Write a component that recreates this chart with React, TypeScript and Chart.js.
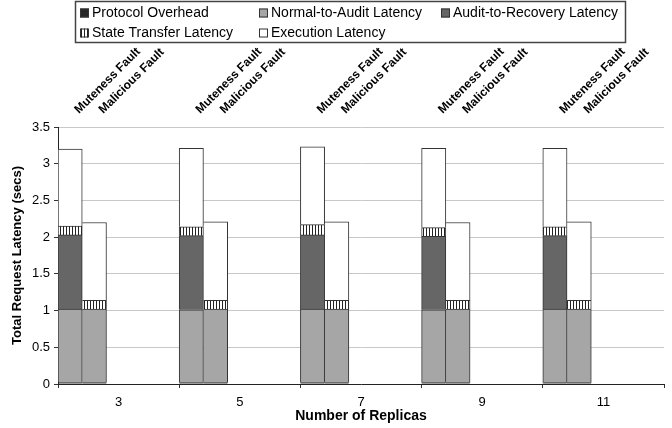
import React, { useEffect, useRef } from "react";
import { Chart, registerables } from "chart.js";

Chart.register(...registerables);

// ---- data ----
const categories = ["3", "5", "7", "9", "11"];
const faultLabels = ["Muteness Fault", "Malicious Fault"];
const seriesNames = [
  "Protocol Overhead",
  "Normal-to-Audit Latency",
  "Audit-to-Recovery Latency",
  "State Transfer Latency",
  "Execution Latency",
];

// Muteness fault stack
const mutenessProtocol = [0.02, 0.02, 0.02, 0.02, 0.02];
const mutenessNormalToAudit = [1.0, 0.99, 1.0, 0.99, 1.0];
const mutenessAuditToRecovery = [1.01, 1.01, 1.01, 1.0, 1.0];
const mutenessStateTransfer = [0.12, 0.12, 0.14, 0.12, 0.12];
const mutenessExecution = [1.05, 1.07, 1.06, 1.08, 1.07];

// Malicious fault stack
const maliciousProtocol = [0.02, 0.02, 0.02, 0.02, 0.02];
const maliciousNormalToAudit = [1.0, 1.0, 1.0, 1.0, 1.0];
const maliciousAuditToRecovery = [null, null, null, null, null];
const maliciousStateTransfer = [0.12, 0.12, 0.12, 0.12, 0.12];
const maliciousExecution = [1.06, 1.07, 1.07, 1.06, 1.07];

const yMin = 0;
const yMax = 3.5;
const yStep = 0.5;

const FONT = '"Liberation Sans", Arial, Helvetica, sans-serif';

function makeStripePattern(ctx: CanvasRenderingContext2D) {
  const c = document.createElement("canvas");
  c.width = 3;
  c.height = 3;
  const p = c.getContext("2d")!;
  p.fillStyle = "#ffffff";
  p.fillRect(0, 0, 3, 3);
  p.fillStyle = "#222222";
  p.fillRect(0, 0, 1, 3);
  return ctx.createPattern(c, "repeat")!;
}

export default function App() {
  const canvasRef = useRef<HTMLCanvasElement | null>(null);

  useEffect(() => {
    const canvas = canvasRef.current;
    if (!canvas) return;
    const ctx = canvas.getContext("2d")!;
    const stripe = makeStripePattern(ctx);

    const fills = ["#262626", "#a6a6a6", "#666666", stripe, "#ffffff"];
    const mutenessSeries = [
      mutenessProtocol,
      mutenessNormalToAudit,
      mutenessAuditToRecovery,
      mutenessStateTransfer,
      mutenessExecution,
    ];
    const maliciousSeries = [
      maliciousProtocol,
      maliciousNormalToAudit,
      maliciousAuditToRecovery,
      maliciousStateTransfer,
      maliciousExecution,
    ];

    const datasets: any[] = [];
    mutenessSeries.forEach((d, i) => {
      datasets.push({
        label: seriesNames[i],
        data: d,
        stack: "muteness",
        backgroundColor: fills[i],
        borderColor: "#333333",
        borderWidth: { top: 1, left: 1, right: 1, bottom: 0 },
        borderSkipped: false,
      });
    });
    maliciousSeries.forEach((d, i) => {
      datasets.push({
        label: seriesNames[i],
        data: d,
        stack: "malicious",
        backgroundColor: fills[i],
        borderColor: "#333333",
        borderWidth: { top: 1, left: 0, right: 1, bottom: 0 },
        borderSkipped: false,
      });
    });
    // empty slots so the two stacks sit at the left of each category
    ["gap1", "gap2", "gap3"].forEach((s) => {
      datasets.push({
        label: s,
        data: categories.map(() => null),
        stack: s,
        backgroundColor: "rgba(0,0,0,0)",
        borderWidth: 0,
      });
    });

    const overlay = {
      id: "overlay",
      afterDraw(chart: any) {
        const c = chart.ctx as CanvasRenderingContext2D;
        const area = chart.chartArea;
        c.save();
        // fault labels above each bar
        c.font = `bold 12px ${FONT}`;
        c.fillStyle = "#000";
        c.textAlign = "left";
        c.textBaseline = "alphabetic";
        [4, 9].forEach((dsIndex, s) => {
          const meta = chart.getDatasetMeta(dsIndex);
          meta.data.forEach((bar: any) => {
            c.save();
            c.translate(bar.x + 9, area.top - 13);
            c.rotate(-Math.PI / 4);
            c.fillText(faultLabels[s], 0, 0);
            c.restore();
          });
        });

        // legend box
        c.strokeStyle = "#444";
        c.lineWidth = 1.5;
        c.strokeRect(75.5, 1.5, 550, 41);
        const cols = [80, 259, 441];
        const rows = [13, 33];
        const order = [0, 1, 2, 3, 4];
        c.font = `14px ${FONT}`;
        c.textBaseline = "middle";
        order.forEach((si, k) => {
          const col = cols[k % 3];
          const row = rows[Math.floor(k / 3)];
          c.fillStyle = fills[si] as any;
          c.fillRect(col, row - 4.5, 9, 9);
          c.strokeStyle = "#333";
          c.lineWidth = 1;
          c.strokeRect(col + 0.5, row - 4, 8, 8);
          c.fillStyle = "#000";
          c.fillText(seriesNames[si], col + 12, row + 0.5);
        });

        // sub-figure caption (cut off at the bottom)
        c.font = `13px ${FONT}`;
        c.textAlign = "center";
        c.textBaseline = "alphabetic";
        c.fillStyle = "#000";
        c.fillText("(a)", 91, 437);
        c.restore();
      },
    };

    const chart = new Chart(ctx, {
      type: "bar",
      data: { labels: categories, datasets },
      options: {
        animation: false,
        responsive: false,
        maintainAspectRatio: false,
        layout: { padding: { top: 127, right: 8, left: 0, bottom: 0 } },
        datasets: { bar: { categoryPercentage: 1, barPercentage: 1 } } as any,
        plugins: { legend: { display: false }, tooltip: { enabled: false } },
        scales: {
          x: {
            stacked: true,
            grid: {
              display: true,
              drawOnChartArea: false,
              drawTicks: true,
              tickLength: 4,
              tickColor: "#333",
              offset: true,
            },
            border: { color: "#222", width: 1 },
            ticks: {
              color: "#000",
              font: { family: FONT, size: 13 },
              padding: 7,
              maxRotation: 0,
            },
            title: {
              display: true,
              text: "Number of Replicas",
              color: "#000",
              font: { family: FONT, size: 14, weight: "bold" },
              padding: { top: 0, bottom: 3 },
            },
            afterFit: (s: any) => {
              s.height = 44;
            },
          } as any,
          y: {
            stacked: true,
            min: yMin,
            max: yMax,
            ticks: {
              stepSize: yStep,
              color: "#000",
              font: { family: FONT, size: 13 },
              padding: 4,
              callback: (v: any) => String(Number(v)),
            },
            grid: { color: "#c8c8c8", tickColor: "#333", tickLength: 4 },
            border: { color: "#222", width: 1 },
            title: {
              display: true,
              text: "Total Request Latency (secs)",
              color: "#000",
              font: { family: FONT, size: 13, weight: "bold" },
              padding: { top: 10, bottom: 0 },
            },
            afterFit: (s: any) => {
              s.width = 58;
            },
          } as any,
        },
      },
      plugins: [overlay],
    });

    return () => chart.destroy();
  }, []);

  return (
    <div style={{ position: "fixed", left: 0, top: 0, width: 672, height: 428, background: "#fff" }}>
      <canvas ref={canvasRef} width={672} height={428} style={{ display: "block" }} />
    </div>
  );
}
